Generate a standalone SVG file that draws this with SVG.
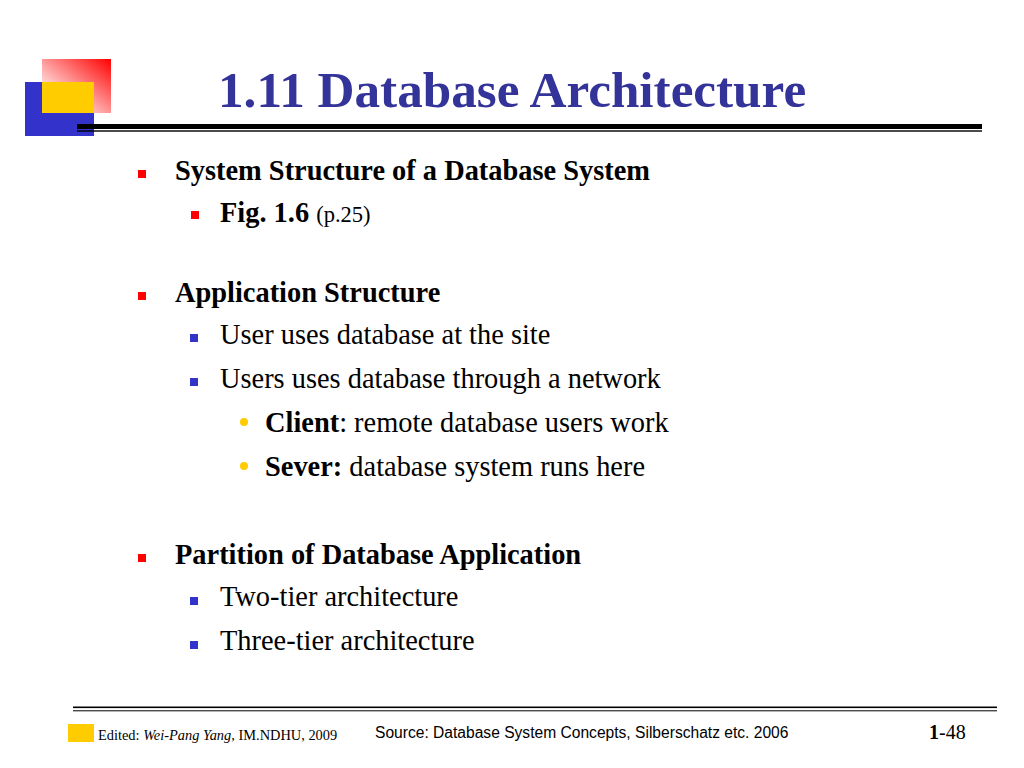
<svg xmlns="http://www.w3.org/2000/svg" width="1024" height="768" viewBox="0 0 1024 768">
<defs>
<linearGradient id="redg" x1="1" y1="0" x2="0" y2="1">
<stop offset="0" stop-color="#FF0000"/>
<stop offset="0.85" stop-color="#FFFFFF"/>
</linearGradient>
<style>
.tb{font-family:"Liberation Serif","Times New Roman",serif;font-weight:bold;fill:#000}
.tr{font-family:"Liberation Serif","Times New Roman",serif;fill:#000}
.l1{font-size:28.4px}
.l2{font-size:28.4px}
.red{fill:#FF0000}
.blue{fill:#3333CC}
.dot{fill:#FFCC00}
</style>
</defs>
<rect width="1024" height="768" fill="#fff"/>
<g id="logo">
<rect x="42" y="59" width="69" height="54" fill="url(#redg)"/>
<rect x="25" y="82" width="69" height="54" fill="#3333CC"/>
<rect x="42" y="82" width="52" height="31" fill="#FFCC00"/>
</g>
<g id="title">
<text x="218" y="107" font-family="Liberation Serif,Times New Roman,serif" font-weight="bold" font-size="51.2" fill="#333399">1.11 Database Architecture</text>
<rect x="77" y="124" width="905" height="5" fill="#000"/>
<rect x="77" y="130.3" width="905" height="1.4" fill="#000"/>
</g>
<g id="body">
<rect class="red" x="138" y="170" width="8" height="8"/>
<text class="tb l1" x="175" y="180">System Structure of a Database System</text>
<rect class="red" x="191" y="211" width="8" height="8"/>
<text class="tb l2" x="220" y="222">Fig. 1.6 <tspan class="tr" font-weight="normal" font-size="22.5">(p.25)</tspan></text>

<rect class="red" x="138" y="292" width="8" height="8"/>
<text class="tb l1" x="175" y="302">Application Structure</text>
<rect class="blue" x="190" y="334" width="8" height="8"/>
<text class="tr l2" x="220" y="344">User uses database at the site</text>
<rect class="blue" x="190" y="378" width="8" height="8"/>
<text class="tr l2" x="220" y="388">Users uses database through a network</text>
<circle class="dot" cx="244" cy="422" r="4"/>
<text class="tr l2" x="265" y="432"><tspan font-weight="bold">Client</tspan>: remote database users work</text>
<circle class="dot" cx="244" cy="466" r="4"/>
<text class="tr l2" x="265" y="476"><tspan font-weight="bold">Sever:</tspan> database system runs here</text>

<rect class="red" x="138" y="554" width="8" height="8"/>
<text class="tb l1" x="175" y="564">Partition of Database Application</text>
<rect class="blue" x="190" y="597" width="8" height="8"/>
<text class="tr l2" x="220" y="606">Two-tier architecture</text>
<rect class="blue" x="190" y="641" width="8" height="8"/>
<text class="tr l2" x="220" y="650">Three-tier architecture</text>
</g>
<g id="footer">
<rect x="73" y="706.5" width="924" height="1.6" fill="#000"/>
<rect x="73" y="710.3" width="924" height="1" fill="#000"/>
<rect x="68" y="724" width="26" height="18" fill="#FFCC00"/>
<text class="tr" x="98" y="740" font-size="14.4">Edited: <tspan font-style="italic">Wei-Pang Yang</tspan>, IM.NDHU, 2009</text>
<text x="375" y="738" font-family="Liberation Sans,Arial,sans-serif" font-size="15.6" fill="#000">Source: Database System Concepts, Silberschatz etc. 2006</text>
<text class="tr" x="929" y="739" font-size="20"><tspan font-weight="bold">1</tspan>-48</text>
</g>
</svg>
